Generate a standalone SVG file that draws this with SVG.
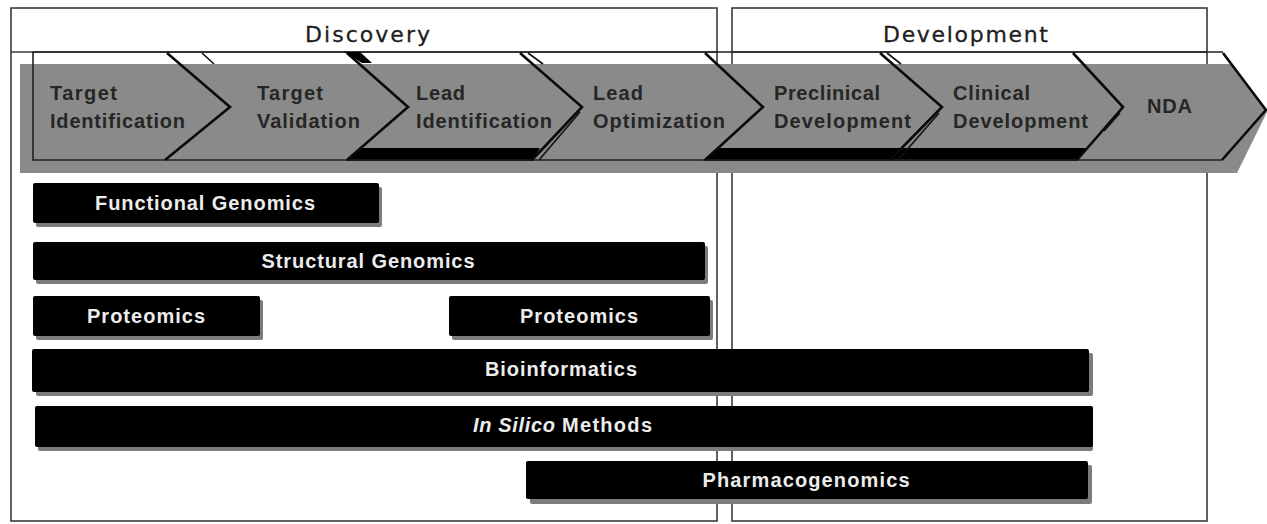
<svg xmlns="http://www.w3.org/2000/svg" width="1267" height="524" viewBox="0 0 1267 524">
  <style>
    .panel{fill:none;stroke:#3a3a3a;stroke-width:1.6}
    .hdr{font-family:"DejaVu Sans","Liberation Sans",Arial,sans-serif;font-size:22px;fill:#1e1e1e;stroke:#1e1e1e;stroke-width:0.3}
    .stage{font-family:"Liberation Sans",Arial,sans-serif;font-weight:bold;font-size:20px;fill:#262626}
    .chev{fill:none;stroke:#0a0a0a;stroke-width:2.6;stroke-linejoin:miter}
    .thin{fill:none;stroke:#111;stroke-width:1.6}
    .outline{fill:none;stroke:#222;stroke-width:1.6}
    .bar{fill:#000}
    .shadow{fill:#7c7c7c}
    .blabel{font-family:"Liberation Sans",Arial,sans-serif;font-weight:bold;font-size:20px;fill:#ececec;text-anchor:middle}
  </style>

  <rect width="1267" height="524" fill="#fff"/>

  <!-- phase panels -->
  <g id="discovery">
    <rect class="panel" x="11" y="8" width="706" height="513"/>
    <line class="panel" x1="11" y1="52" x2="717" y2="52"/>
    <text class="hdr" x="305" y="42" textLength="125">Discovery</text>
  </g>
  <g id="development">
    <rect class="panel" x="732" y="8" width="475" height="513"/>
    <line class="panel" x1="732" y1="52" x2="1207" y2="52"/>
    <text class="hdr" x="883" y="42" textLength="165">Development</text>
  </g>

  <!-- pipeline arrow band -->
  <g id="pipeline">
    <polygon points="20,64 1231,64 1267,112 1237,173 20,173" fill="#8a8a8a"/>
    <polygon class="bar" points="346,161 360,148 540,148 533,161"/>
    <polygon class="bar" points="703,161 717,148 1086,148 1077,161"/>
    <path class="outline" d="M1223,52 L33,52 L33,160 L1222,160"/>
  </g>

  <!-- stage boundaries -->
  <g id="connectors">
    <polyline class="chev" points="167,53 230,107 165,160"/>
    <polyline class="chev" points="347,53 408,107 347,160" stroke-width="3.4"/>
    <polyline class="chev" points="520,53 582,107 532,160"/>
    <polyline class="chev" points="705,53 763,107 705,160"/>
    <polyline class="chev" points="880,53 942,107 890,160"/>
    <polyline class="chev" points="1073,53 1123,107 1077,160"/>
    <polyline class="chev" points="1223,53 1266,110 1222,160"/>
    <line class="thin" x1="202" y1="53" x2="214" y2="64"/>
    <polygon class="bar" points="344,52 360,52 372,63 362,63"/>
    <line class="thin" x1="528" y1="53" x2="543" y2="64"/>
    <line class="thin" x1="580" y1="112" x2="539" y2="160"/>
    <line class="thin" x1="887" y1="53" x2="901" y2="64"/>
    <line class="thin" x1="939" y1="113" x2="898" y2="160"/>
    <line class="thin" x1="1120" y1="113" x2="1104" y2="131"/>
  </g>

  <g id="stage-target-identification">
    <text class="stage" x="50" y="100" textLength="67">Target</text>
    <text class="stage" x="50" y="128" textLength="135">Identification</text>
  </g>
  <g id="stage-target-validation">
    <text class="stage" x="257" y="100" textLength="66">Target</text>
    <text class="stage" x="257" y="128" textLength="103">Validation</text>
  </g>
  <g id="stage-lead-identification">
    <text class="stage" x="416" y="100" textLength="49">Lead</text>
    <text class="stage" x="416" y="128" textLength="136">Identification</text>
  </g>
  <g id="stage-lead-optimization">
    <text class="stage" x="593" y="100" textLength="50">Lead</text>
    <text class="stage" x="593" y="128" textLength="132">Optimization</text>
  </g>
  <g id="stage-preclinical">
    <text class="stage" x="774" y="100" textLength="106">Preclinical</text>
    <text class="stage" x="774" y="128" textLength="137">Development</text>
  </g>
  <g id="stage-clinical">
    <text class="stage" x="953" y="100" textLength="77">Clinical</text>
    <text class="stage" x="953" y="128" textLength="135">Development</text>
  </g>
  <g id="stage-nda">
    <text class="stage" x="1147" y="113" textLength="45">NDA</text>
  </g>

  <!-- technology bars -->
  <g id="functional-genomics">
    <rect class="shadow" x="36" y="187" width="346" height="40" rx="2"/>
    <rect class="bar" x="33" y="183" width="346" height="40" rx="2"/>
    <text class="blabel" x="205" y="210" textLength="220">Functional Genomics</text>
  </g>
  <g id="structural-genomics">
    <rect class="shadow" x="36" y="246" width="672" height="38" rx="2"/>
    <rect class="bar" x="33" y="242" width="672" height="38" rx="2"/>
    <text class="blabel" x="368" y="268" textLength="213">Structural Genomics</text>
  </g>
  <g id="proteomics-early">
    <rect class="shadow" x="36" y="300" width="227" height="40" rx="2"/>
    <rect class="bar" x="33" y="296" width="227" height="40" rx="2"/>
    <text class="blabel" x="146" y="323" textLength="118">Proteomics</text>
  </g>
  <g id="proteomics-late">
    <rect class="shadow" x="452" y="300" width="261" height="40" rx="2"/>
    <rect class="bar" x="449" y="296" width="261" height="40" rx="2"/>
    <text class="blabel" x="579" y="323" textLength="118">Proteomics</text>
  </g>
  <g id="bioinformatics">
    <rect class="shadow" x="36" y="353" width="1057" height="43" rx="2"/>
    <rect class="bar" x="32" y="349" width="1057" height="43" rx="2"/>
    <text class="blabel" x="561" y="376" textLength="152">Bioinformatics</text>
  </g>
  <g id="in-silico-methods">
    <rect class="shadow" x="38" y="410" width="1055" height="41" rx="2"/>
    <rect class="bar" x="35" y="406" width="1058" height="41" rx="2"/>
    <text class="blabel" x="514" y="432" textLength="82" font-style="italic">In Silico</text>
    <text class="blabel" x="607" y="432" textLength="90">Methods</text>
  </g>
  <g id="pharmacogenomics">
    <rect class="shadow" x="530" y="465" width="562" height="39" rx="2"/>
    <rect class="bar" x="526" y="461" width="562" height="38" rx="2"/>
    <text class="blabel" x="806" y="487" textLength="207">Pharmacogenomics</text>
  </g>
</svg>
